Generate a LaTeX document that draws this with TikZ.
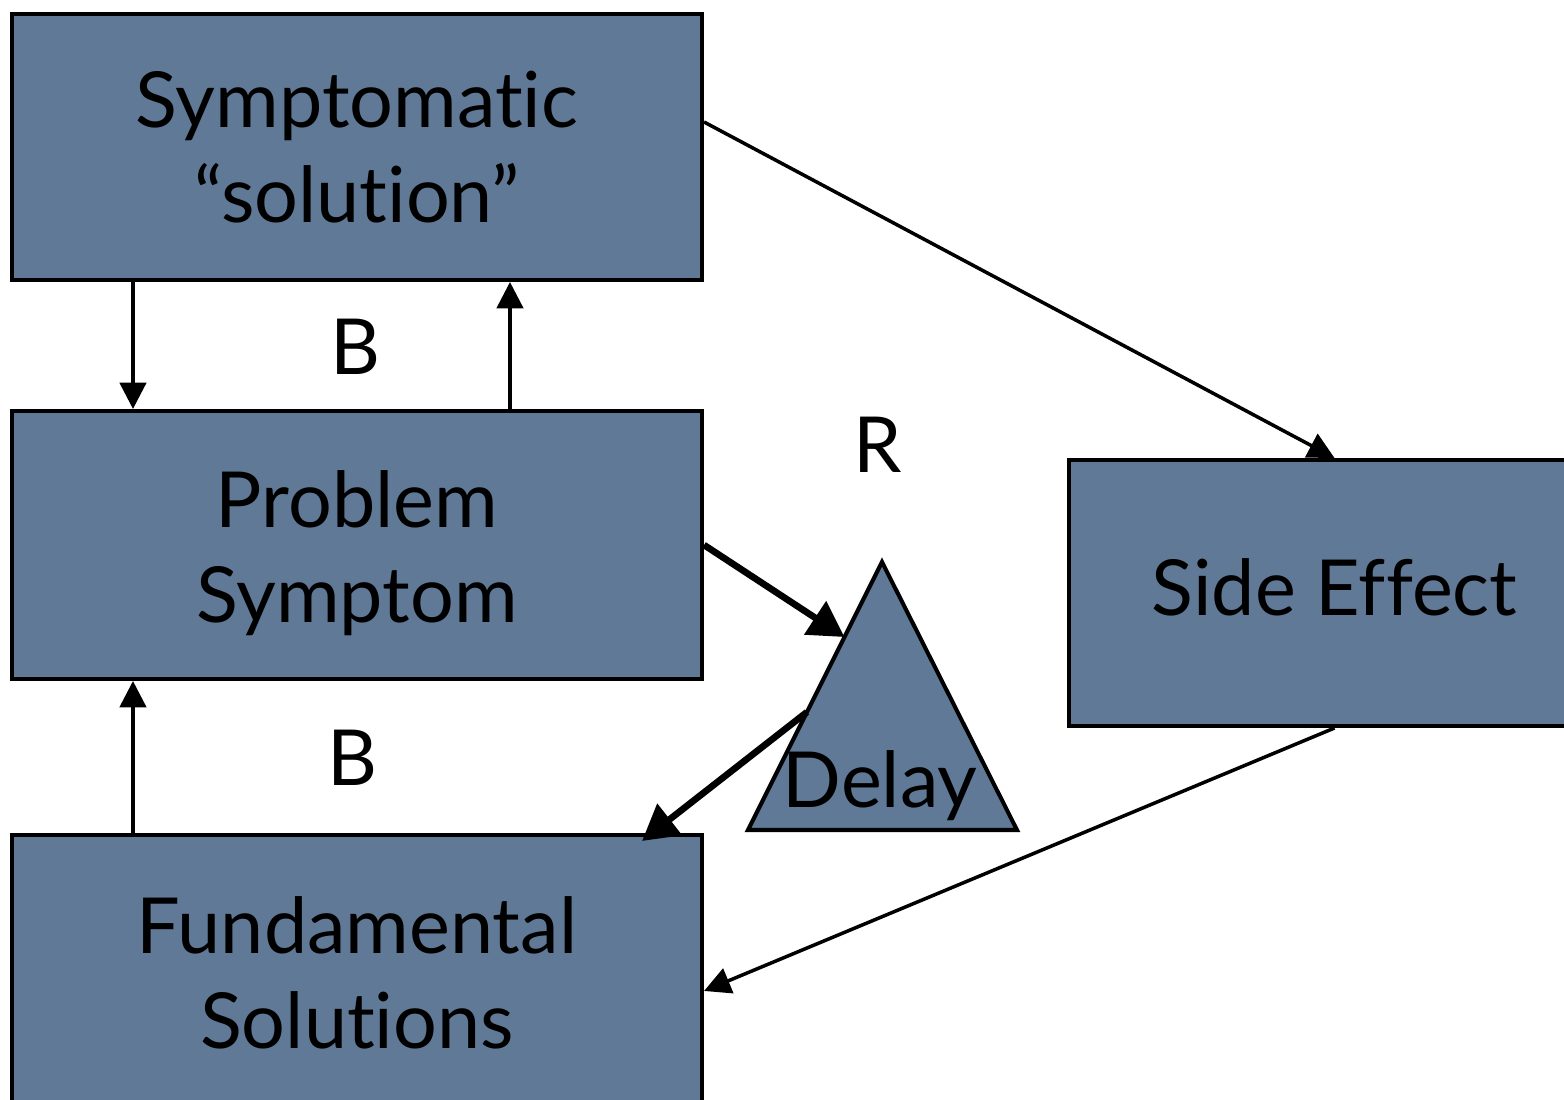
\documentclass[tikz,border=0pt]{standalone}
\usepackage{fontspec}
\setmainfont{Lato}[Ligatures={NoCommon}]
\usepackage{tikz}
\usetikzlibrary{arrows.meta,calc}
\definecolor{slate}{RGB}{96,121,150}

\begin{document}
\begin{tikzpicture}[
    box/.style={draw,line width=1.15pt,fill=slate,align=center,
      font=\fontsize{22}{27}\selectfont},
    thinarr/.style={line width=1pt,-{Triangle[length=7.5pt,width=7.5pt]}},
    thickarr/.style={line width=1.9pt,-{Triangle[length=10pt,width=11pt]}},
    lbl/.style={font=\fontsize{22}{27}\selectfont}
  ]
      \useasboundingbox (0, 0) rectangle (15.64, 11);

      \node[box,minimum width=6.9cm,minimum height=2.66cm] (symp) at (3.57, 9.53)
        {Symptomatic\\“solution”};
      \node[box,minimum width=6.9cm,minimum height=2.68cm,text height=48pt] (prob) at (3.57, 5.55)
        {Problem\\Symptom};
      \node[box,minimum width=6.9cm,minimum height=2.75cm] (fund) at (3.57, 1.275)
        {Fundamental\\Solutions};
      \node[box,minimum width=5.31cm,minimum height=2.66cm,text depth=3.5pt] (side) at (13.345, 5.07)
        {Side Effect};

      \coordinate (dtop) at (8.82, 5.38);
      \coordinate (dleft) at (7.48, 2.70);
      \coordinate (dright) at (10.17, 2.70);
      \draw[line width=1.15pt,fill=slate,line join=miter] (dtop) -- (dleft) -- (dright) -- cycle;
      \node[lbl] (dly) at (8.80, 3.14) {Delay};
      \coordinate (dlyin) at ($(dtop)!0.28!(dleft)$);
      \coordinate (dlyout) at ($(dtop)!0.56!(dleft)$);

      \node[lbl] (b1) at (3.55, 7.53) {B};
      \node[lbl] (b2) at (3.52, 3.42) {B};
      \node[lbl] (r) at (8.78, 6.55) {R};

      \draw[thinarr] ([xshift=1.23cm]symp.south west) -- ([xshift=1.23cm]prob.north west);
      \draw[thinarr] ([xshift=5.0cm]prob.north west) -- ([xshift=5.0cm]symp.south west);
      \draw[thinarr] ([xshift=1.23cm]fund.north west) -- ([xshift=1.23cm]prob.south west);
      \draw[thinarr] ([yshift=0.25cm]symp.east) -- (side.north);
      \draw[thinarr] (side.south) -- ([yshift=-1.58cm]fund.north east);

      \draw[thickarr] (prob.east) -- (dlyin);
      \draw[thickarr] (dlyout) -- ([xshift=-0.62cm,yshift=-0.08cm]fund.north east);
    \end{tikzpicture}
\end{document}
